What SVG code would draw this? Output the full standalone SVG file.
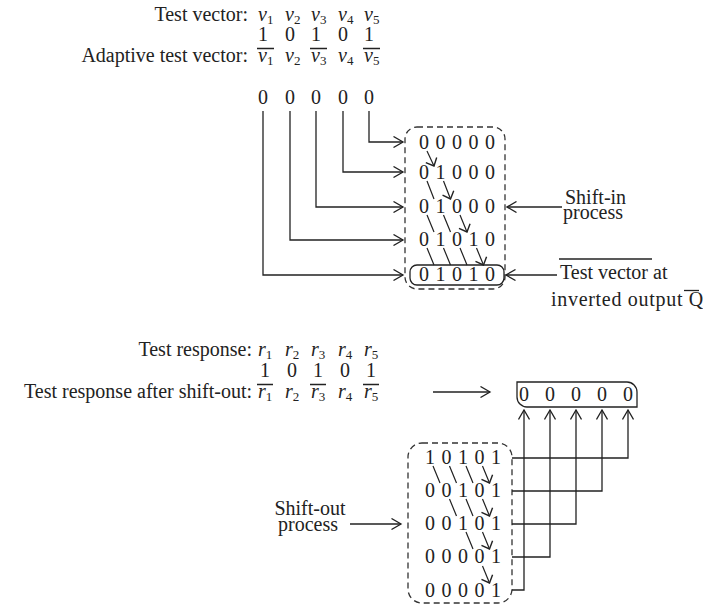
<svg xmlns="http://www.w3.org/2000/svg" width="703" height="606" viewBox="0 0 703 606">
<style>
.t{font-family:"Liberation Serif","Times New Roman",serif;font-size:20px;fill:#222}
.m{text-anchor:middle}
.e{text-anchor:end}
.i{font-style:italic}
.s{font-size:13px;font-style:normal}
.ln{stroke:#222;stroke-width:1.3;fill:none}
.dash{stroke:#333;stroke-width:1.3;fill:none;stroke-dasharray:6 4}
.big{stroke:#222;stroke-width:1.3;fill:none;marker-end:url(#ah)}
.sm{stroke:#222;stroke-width:1.2;fill:none;marker-end:url(#as)}
</style>
<defs>
<marker id="ah" viewBox="0 0 12 12" refX="10.5" refY="6" markerWidth="12" markerHeight="12" markerUnits="userSpaceOnUse" orient="auto"><path d="M1,0.5 L10.5,6 L1,11.5" fill="none" stroke="#222" stroke-width="1.3"/></marker>
<marker id="as" viewBox="0 0 14 14" refX="8" refY="7" markerWidth="14" markerHeight="14" markerUnits="userSpaceOnUse" orient="auto"><path d="M1.5,1 L8,7 L1.5,13" fill="none" stroke="#222" stroke-width="1.4"/></marker>
</defs>

<g id="test-vector">
<text class="t e" x="248" y="21">Test vector:</text>
<text class="t" x="258" y="21"><tspan class="i">v</tspan><tspan class="s" dy="3">1</tspan></text>
<text class="t" x="285" y="21"><tspan class="i">v</tspan><tspan class="s" dy="3">2</tspan></text>
<text class="t" x="311" y="21"><tspan class="i">v</tspan><tspan class="s" dy="3">3</tspan></text>
<text class="t" x="338" y="21"><tspan class="i">v</tspan><tspan class="s" dy="3">4</tspan></text>
<text class="t" x="364" y="21"><tspan class="i">v</tspan><tspan class="s" dy="3">5</tspan></text>
<text class="t m" x="263" y="41">1</text><text class="t m" x="290" y="41">0</text><text class="t m" x="316" y="41">1</text><text class="t m" x="343" y="41">0</text><text class="t m" x="369" y="41">1</text>
</g>

<g id="adaptive-vector">
<text class="t e" x="248" y="62">Adaptive test vector:</text>
<text class="t" x="258" y="62"><tspan class="i">v</tspan><tspan class="s" dy="3">1</tspan></text>
<text class="t" x="285" y="62"><tspan class="i">v</tspan><tspan class="s" dy="3">2</tspan></text>
<text class="t" x="311" y="62"><tspan class="i">v</tspan><tspan class="s" dy="3">3</tspan></text>
<text class="t" x="338" y="62"><tspan class="i">v</tspan><tspan class="s" dy="3">4</tspan></text>
<text class="t" x="364" y="62"><tspan class="i">v</tspan><tspan class="s" dy="3">5</tspan></text>
<path class="ln" d="M257,48.5H274M310,48.5H327M363,48.5H380"/>
<text class="t m" x="263" y="104">0</text><text class="t m" x="290" y="104">0</text><text class="t m" x="316" y="104">0</text><text class="t m" x="343" y="104">0</text><text class="t m" x="369" y="104">0</text>
</g>

<g id="shift-in-box">
<rect class="dash" x="405" y="127" width="100" height="162" rx="12"/>
<rect class="ln" x="410" y="265" width="94" height="20" rx="7"/>
<g class="t m">
<text x="424" y="149">0</text><text x="440.5" y="149">0</text><text x="457" y="149">0</text><text x="473.5" y="149">0</text><text x="490" y="149">0</text>
<text x="424" y="179">0</text><text x="440.5" y="179">1</text><text x="457" y="179">0</text><text x="473.5" y="179">0</text><text x="490" y="179">0</text>
<text x="424" y="213">0</text><text x="440.5" y="213">1</text><text x="457" y="213">0</text><text x="473.5" y="213">0</text><text x="490" y="213">0</text>
<text x="424" y="246">0</text><text x="440.5" y="246">1</text><text x="457" y="246">0</text><text x="473.5" y="246">1</text><text x="490" y="246">0</text>
<text x="424" y="281">0</text><text x="440.5" y="281">1</text><text x="457" y="281">0</text><text x="473.5" y="281">1</text><text x="490" y="281">0</text>
</g>
<path class="sm" d="M427,151L434,166"/>
<path class="sm" d="M427,181L434,199M443.5,181L450.5,199"/>
<path class="sm" d="M427,215L434,232M443.5,215L450.5,232M460,215L467,232"/>
<path class="sm" d="M427,248L434,265M443.5,248L450.5,265M460,248L467,265M476.5,248L483.5,265"/>
</g>

<g id="shift-in-label">
<text class="t" x="565" y="204">Shift-in</text>
<text class="t" x="563" y="219">process</text>
</g>

<g id="inverted-label">
<text class="t" x="560" y="279">Test vector at</text>
<path class="ln" d="M559,259H652"/>
<text class="t" x="551" y="306" letter-spacing="0.7">inverted output Q</text>
<path class="ln" d="M684,290.5H699"/>
</g>

<g id="test-response">
<text class="t e" x="252" y="356">Test response:</text>
<text class="t" x="258" y="356"><tspan class="i">r</tspan><tspan class="s" dy="3">1</tspan></text>
<text class="t" x="285" y="356"><tspan class="i">r</tspan><tspan class="s" dy="3">2</tspan></text>
<text class="t" x="311" y="356"><tspan class="i">r</tspan><tspan class="s" dy="3">3</tspan></text>
<text class="t" x="338" y="356"><tspan class="i">r</tspan><tspan class="s" dy="3">4</tspan></text>
<text class="t" x="364" y="356"><tspan class="i">r</tspan><tspan class="s" dy="3">5</tspan></text>
<text class="t m" x="265" y="377">1</text><text class="t m" x="292" y="377">0</text><text class="t m" x="318" y="377">1</text><text class="t m" x="345" y="377">0</text><text class="t m" x="371" y="377">1</text>
</g>

<g id="response-after">
<text class="t e" x="252" y="398">Test response after shift-out:</text>
<text class="t" x="258" y="398"><tspan class="i">r</tspan><tspan class="s" dy="3">1</tspan></text>
<text class="t" x="285" y="398"><tspan class="i">r</tspan><tspan class="s" dy="3">2</tspan></text>
<text class="t" x="311" y="398"><tspan class="i">r</tspan><tspan class="s" dy="3">3</tspan></text>
<text class="t" x="338" y="398"><tspan class="i">r</tspan><tspan class="s" dy="3">4</tspan></text>
<text class="t" x="364" y="398"><tspan class="i">r</tspan><tspan class="s" dy="3">5</tspan></text>
<path class="ln" d="M257,384.5H273M310,384.5H326M363,384.5H379"/>
</g>

<g id="output-box">
<path class="ln" d="M517,382H627A10,10 0 0 1 637,392V407H527A10,10 0 0 1 517,397Z"/>
<g class="t m">
<text x="524" y="401">0</text><text x="550" y="401">0</text><text x="576" y="401">0</text><text x="602" y="401">0</text><text x="628" y="401">0</text>
</g>
</g>

<g id="shift-out-box">
<rect class="dash" x="408" y="443" width="104" height="160" rx="14"/>
<g class="t m">
<text x="430" y="464">1</text><text x="446.5" y="464">0</text><text x="463" y="464">1</text><text x="479.5" y="464">0</text><text x="496" y="464">1</text>
<text x="430" y="497">0</text><text x="446.5" y="497">0</text><text x="463" y="497">1</text><text x="479.5" y="497">0</text><text x="496" y="497">1</text>
<text x="430" y="530">0</text><text x="446.5" y="530">0</text><text x="463" y="530">1</text><text x="479.5" y="530">0</text><text x="496" y="530">1</text>
<text x="430" y="563">0</text><text x="446.5" y="563">0</text><text x="463" y="563">0</text><text x="479.5" y="563">0</text><text x="496" y="563">1</text>
<text x="430" y="597">0</text><text x="446.5" y="597">0</text><text x="463" y="597">0</text><text x="479.5" y="597">0</text><text x="496" y="597">1</text>
</g>
<path class="sm" d="M433,466L440,483M449.5,466L456.5,483M466,466L473,483M482.5,466L489.5,483"/>
<path class="sm" d="M449.5,499L456.5,516M466,499L473,516M482.5,499L489.5,516"/>
<path class="sm" d="M466,532L473,549M482.5,532L489.5,549"/>
<path class="sm" d="M482.5,566L489.5,583"/>
</g>

<g id="shift-out-label">
<text class="t m" x="310" y="515">Shift-out</text>
<text class="t m" x="308" y="531">process</text>
</g>

<g id="connectors">
<path class="big" d="M369,111V142H403"/>
<path class="big" d="M343,111V172H403"/>
<path class="big" d="M316,111V207H403"/>
<path class="big" d="M290,111V240H403"/>
<path class="big" d="M263,111V275H403"/>
<path class="big" d="M562,207H507"/>
<path class="big" d="M557,275H506"/>
<path class="big" d="M433,392H490"/>
<path class="big" d="M350,524H401"/>
<path class="big" d="M512,458H628V410"/>
<path class="big" d="M512,491H602V410"/>
<path class="big" d="M512,524H576V410"/>
<path class="big" d="M512,557H550V410"/>
<path class="big" d="M512,590H524V410"/>
</g>
</svg>
